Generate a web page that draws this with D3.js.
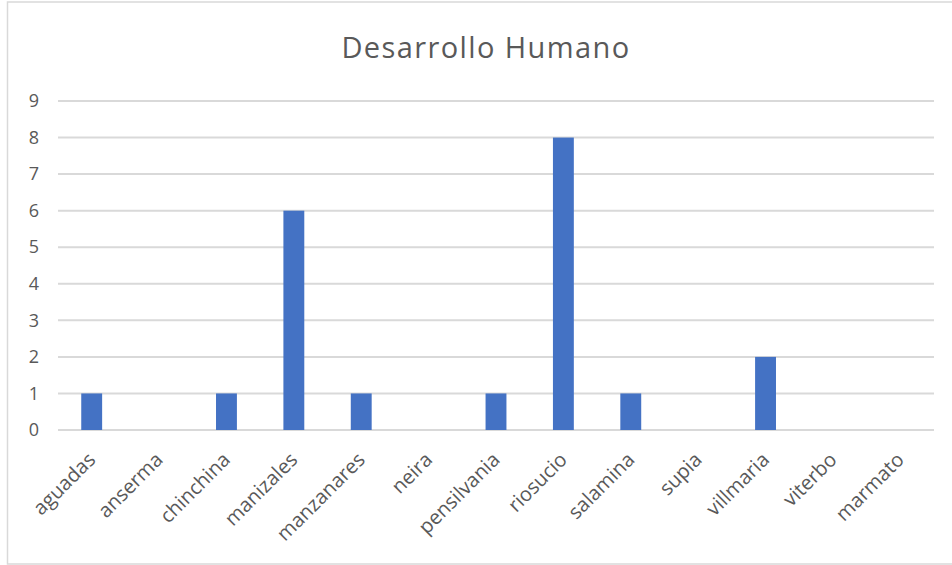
<!DOCTYPE html>
<html>
<head>
<meta charset="utf-8">
<script src="https://cdn.jsdelivr.net/npm/d3@7"></script>
<style>
  html, body { margin: 0; padding: 0; background: #fff; }
  svg { display: block; font-family: "Open Sans", "Liberation Sans", sans-serif; }
</style>
</head>
<body>
<svg id="chart" width="952" height="565"></svg>
<script>
// Municipios y número de registros de Desarrollo Humano
const municipios = ["aguadas", "anserma", "chinchina", "manizales", "manzanares", "neira",
  "pensilvania", "riosucio", "salamina", "supia", "villmaria", "viterbo", "marmato"];
const valores = [1, 0, 1, 6, 1, 0, 1, 8, 1, 0, 2, 0, 0];
const yTicks = [0, 1, 2, 3, 4, 5, 6, 7, 8, 9];
const titulo = "Desarrollo Humano";

const svg = d3.select("#chart");
const W = 952, H = 565;
const plot = { left: 58, right: 934, top: 101, bottom: 430 };

// Marco exterior del gráfico (abierto por la derecha)
svg.append("rect")
  .attr("x", 7.5).attr("y", 2)
  .attr("width", W + 10).attr("height", H - 3)
  .attr("fill", "#fff").attr("stroke", "#d9d9d9").attr("stroke-width", 1.5);

const x = d3.scaleBand().domain(municipios).range([plot.left, plot.right]).paddingInner(0.69).paddingOuter(0.345);
const y = d3.scaleLinear().domain([0, 9]).range([plot.bottom, plot.top]);

// Líneas de cuadrícula
svg.append("g")
  .selectAll("line")
  .data(yTicks)
  .join("line")
  .attr("x1", plot.left).attr("x2", plot.right)
  .attr("y1", d => y(d)).attr("y2", d => y(d))
  .attr("stroke", "#d9d9d9").attr("stroke-width", 2);

// Eje Y
const yAxis = svg.append("g")
  .attr("transform", "translate(39,0)")
  .call(d3.axisLeft(y).tickValues(yTicks).tickSize(0).tickPadding(0));
yAxis.select(".domain").remove();
yAxis.selectAll("text")
  .attr("fill", "#595959").style("font-size", "18px")
  .style("font-family", "'Open Sans', sans-serif");

// Barras
svg.append("g")
  .selectAll("rect")
  .data(municipios.map((m, i) => ({ m, v: valores[i] })))
  .join("rect")
  .attr("x", d => x(d.m))
  .attr("y", d => y(d.v))
  .attr("width", x.bandwidth())
  .attr("height", d => y(0) - y(d.v))
  .attr("fill", "#4472c4");

// Eje X con etiquetas rotadas
const xAxis = svg.append("g")
  .attr("transform", `translate(0,${plot.bottom})`)
  .call(d3.axisBottom(x).tickSize(0).tickPadding(0));
xAxis.select(".domain").remove();
xAxis.selectAll("text")
  .attr("fill", "#595959").style("font-size", "20px")
  .style("font-family", "'Open Sans', sans-serif")
  .attr("text-anchor", "end")
  .attr("y", 0)
  .attr("dy", 0)
  .attr("transform", "translate(5,31) rotate(-45)");

// Título
svg.append("text")
  .attr("x", 486)
  .attr("y", 58)
  .attr("text-anchor", "middle")
  .attr("fill", "#595959")
  .style("font-size", "29px")
  .style("letter-spacing", "1.4px")
  .text(titulo);
</script>
</body>
</html>
